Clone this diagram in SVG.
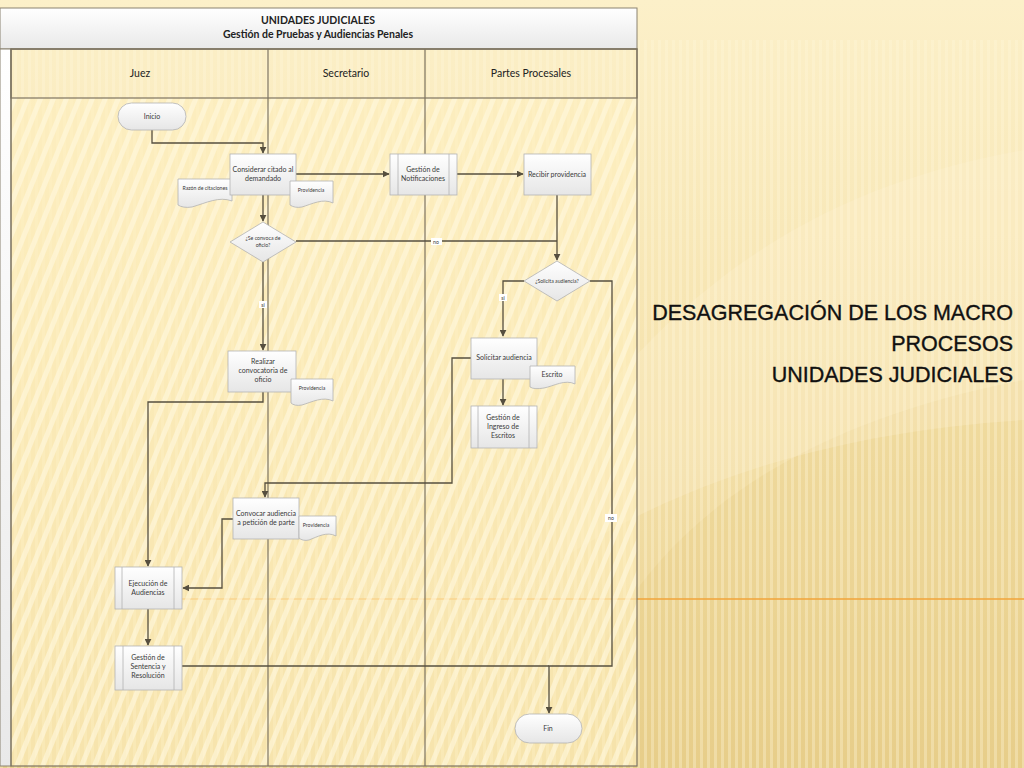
<svg xmlns="http://www.w3.org/2000/svg" width="1024" height="768" viewBox="0 0 1024 768">
<defs>
<linearGradient id="bg" x1="0" y1="0" x2="0" y2="1">
<stop offset="0" stop-color="#fcf0c9"/>
<stop offset="0.45" stop-color="#f6e4b0"/>
<stop offset="1" stop-color="#e9d08e"/>
</linearGradient>
<pattern id="vstripe" width="7" height="20" patternUnits="userSpaceOnUse">
<rect x="0" y="0" width="3" height="20" fill="#fff6da" opacity="0.35"/>
</pattern>
<pattern id="dstripe" width="12" height="20" patternUnits="userSpaceOnUse" patternTransform="rotate(22)">
<rect x="0" y="0" width="5" height="20" fill="#fff8e0" opacity="0.6"/>
</pattern>
<linearGradient id="hdr" x1="0" y1="0" x2="0" y2="1">
<stop offset="0" stop-color="#ffffff"/>
<stop offset="1" stop-color="#e9e9e9"/>
</linearGradient>
<linearGradient id="node" x1="0" y1="0" x2="0" y2="1">
<stop offset="0" stop-color="#ffffff"/>
<stop offset="1" stop-color="#e6e6e6"/>
</linearGradient>
<marker id="arr" viewBox="0 0 10 10" refX="9" refY="5" markerWidth="7" markerHeight="7" markerUnits="userSpaceOnUse" orient="auto">
<path d="M0,0 L10,5 L0,10 Z" fill="#564f3f"/>
</marker>
<style>
.n{fill:url(#node);stroke:#b3b3b3;stroke-width:0.8}
.t{font-family:Lato,"Open Sans","Liberation Sans",sans-serif;font-size:7px;fill:#3a3a3a;text-anchor:middle}
.s{font-family:Lato,"Open Sans","Liberation Sans",sans-serif;font-size:5.2px;fill:#3a3a3a;text-anchor:middle}
.h{font-family:Lato,"Open Sans","Liberation Sans",sans-serif;font-size:10.5px;fill:#222;text-anchor:middle}
.c{fill:none;stroke:#564f3f;stroke-width:1.3}
.lane{fill:none;stroke:#7d7461;stroke-width:1.2}
.lbl{fill:#ffffff}
.title{font-family:"Liberation Sans",Arial,sans-serif;font-size:21.5px;fill:#111;stroke:#111;stroke-width:0.35;text-anchor:end}
</style>
</defs>

<!-- slide background -->
<rect x="0" y="0" width="1024" height="768" fill="url(#bg)"/>
<path d="M560,768 C600,560 760,430 1024,380 L1024,768 Z" fill="#e4c87c" opacity="0.25"/>
<path d="M560,450 C700,250 860,180 1024,150 L1024,420 C860,430 700,470 560,560 Z" fill="#fff5d6" opacity="0.25"/>
<rect x="0" y="40" width="1024" height="728" fill="url(#vstripe)"/>
<line x1="182" y1="599" x2="1024" y2="599" stroke="#f2a43a" stroke-width="1.6"/>

<!-- pool -->
<g id="pool">
<rect x="11" y="98" width="626" height="668" fill="#fdeebd" opacity="0.65"/>
<rect x="11" y="98" width="626" height="668" fill="url(#dstripe)"/>
<rect x="0" y="8" width="637" height="41" fill="url(#hdr)" stroke="#8a8270" stroke-width="1"/>
<rect x="0" y="49" width="11" height="717" fill="url(#hdr)" stroke="#8a8270" stroke-width="1"/>
<rect x="11" y="49" width="626" height="49" fill="url(#hdr)" class="lane"/>
<line x1="268" y1="49" x2="268" y2="766" class="lane"/>
<line x1="425" y1="49" x2="425" y2="766" class="lane"/>
<rect x="11" y="49" width="626" height="717" class="lane"/>
<text x="318" y="24" class="h" font-weight="bold">UNIDADES JUDICIALES</text>
<text x="318" y="38" class="h" font-weight="bold">Gestión de Pruebas y Audiencias Penales</text>
<text x="140" y="77" class="h">Juez</text>
<text x="346" y="77" class="h">Secretario</text>
<text x="531" y="77" class="h">Partes Procesales</text>
</g>

<!-- connectors -->
<g id="connectors">
<path class="c" d="M152,130 V143 H263 V153" marker-end="url(#arr)"/>
<path class="c" d="M296,174 H389" marker-end="url(#arr)"/>
<path class="c" d="M457,174 H523" marker-end="url(#arr)"/>
<path class="c" d="M263,195 V221" marker-end="url(#arr)"/>
<path class="c" d="M296,241 H557"/>
<path class="c" d="M557,195 V260" marker-end="url(#arr)"/>
<path class="c" d="M263,262 V350" marker-end="url(#arr)"/>
<path class="c" d="M524,281 H503 V336" marker-end="url(#arr)"/>
<path class="c" d="M590,281 H612 V666 H549 V713" marker-end="url(#arr)"/>
<path class="c" d="M182,666 H549"/>
<path class="c" d="M263,392 V402 H148 V566" marker-end="url(#arr)"/>
<path class="c" d="M471,358 H452 V483 H265 V497" marker-end="url(#arr)"/>
<path class="c" d="M503,379 V405" marker-end="url(#arr)"/>
<path class="c" d="M233,519 H222 V588 H183" marker-end="url(#arr)"/>
<path class="c" d="M148,609 V645" marker-end="url(#arr)"/>
<rect class="lbl" x="431" y="238" width="11" height="7"/>
<text x="436" y="244" class="s" font-size="6">no</text>
<rect class="lbl" x="259" y="301" width="8" height="7"/>
<text x="263" y="307" class="s" font-size="6">si</text>
<rect class="lbl" x="499" y="294" width="8" height="7"/>
<text x="503" y="300" class="s" font-size="6">si</text>
<rect class="lbl" x="605" y="514" width="12" height="8"/>
<text x="611" y="520" class="s" font-size="6">no</text>
</g>

<!-- nodes -->
<g id="inicio">
<rect class="n" x="118" y="103" width="68" height="27" rx="13.5"/>
<text x="152" y="119" class="t">Inicio</text>
</g>
<g id="razon">
<path class="n" d="M178,179 H232 V201 C219,196 206,203 192,207 C186,208 181,207 178,205 Z"/>
<text x="205" y="190" class="s">Razón de citaciones</text>
</g>
<g id="considerar">
<rect class="n" x="230" y="154" width="66" height="41"/>
<text x="263" y="172" class="t">Considerar citado al</text>
<text x="263" y="181" class="t">demandado</text>
</g>
<g id="providencia1">
<path class="n" d="M290,181 H333 V203 C323,198 312,204 302,207 C297,208 293,207 290,205 Z"/>
<text x="311" y="192" class="s">Providencia</text>
</g>
<g id="gestion-notif">
<rect class="n" x="390" y="154" width="67" height="41"/>
<line x1="398" y1="154" x2="398" y2="195" stroke="#b3b3b3" stroke-width="0.8"/>
<line x1="449" y1="154" x2="449" y2="195" stroke="#b3b3b3" stroke-width="0.8"/>
<text x="423" y="172" class="t">Gestión de</text>
<text x="423" y="181" class="t">Notificaciones</text>
</g>
<g id="recibir">
<rect class="n" x="524" y="154" width="67" height="41"/>
<text x="557" y="177" class="t">Recibir providencia</text>
</g>
<g id="convoca-oficio">
<path class="n" d="M263,222 L296,242 L263,262 L230,242 Z"/>
<text x="263" y="240" class="s">¿Se convoca de</text>
<text x="263" y="247" class="s">oficio?</text>
</g>
<g id="solicita">
<path class="n" d="M557,261 L590,281 L557,301 L524,281 Z"/>
<text x="557" y="283" class="s">¿Solicita audiencia?</text>
</g>
<g id="realizar">
<rect class="n" x="228" y="351" width="68" height="41"/>
<text x="263" y="364" class="t">Realizar</text>
<text x="263" y="373" class="t">convocatoria de</text>
<text x="263" y="382" class="t">oficio</text>
</g>
<g id="providencia2">
<path class="n" d="M291,379 H333 V401 C323,396 312,402 302,405 C297,406 293,405 291,403 Z"/>
<text x="312" y="390" class="s">Providencia</text>
</g>
<g id="solicitar">
<rect class="n" x="471" y="338" width="66" height="41"/>
<text x="504" y="360" class="t">Solicitar audiencia</text>
</g>
<g id="escrito">
<path class="n" d="M530,366 H575 V384 C565,379 554,386 544,388 C538,389 533,389 530,387 Z"/>
<text x="552" y="377" class="t" font-size="6.5">Escrito</text>
</g>
<g id="gestion-ingreso">
<rect class="n" x="471" y="406" width="66" height="42"/>
<line x1="478" y1="406" x2="478" y2="448" stroke="#b3b3b3" stroke-width="0.8"/>
<line x1="529" y1="406" x2="529" y2="448" stroke="#b3b3b3" stroke-width="0.8"/>
<text x="503" y="420" class="t">Gestión de</text>
<text x="503" y="429" class="t">Ingreso de</text>
<text x="503" y="438" class="t">Escritos</text>
</g>
<g id="convocar">
<rect class="n" x="233" y="498" width="66" height="41"/>
<text x="266" y="516" class="t">Convocar audiencia</text>
<text x="266" y="525" class="t">a petición de parte</text>
</g>
<g id="providencia3">
<path class="n" d="M299,516 H336 V536 C327,531 317,537 309,540 C305,541 301,540 299,538 Z"/>
<text x="316" y="527" class="s">Providencia</text>
</g>
<g id="ejecucion">
<rect class="n" x="115" y="567" width="67" height="42"/>
<line x1="122" y1="567" x2="122" y2="609" stroke="#b3b3b3" stroke-width="0.8"/>
<line x1="174" y1="567" x2="174" y2="609" stroke="#b3b3b3" stroke-width="0.8"/>
<text x="148" y="586" class="t">Ejecución de</text>
<text x="148" y="595" class="t">Audiencias</text>
</g>
<g id="sentencia">
<rect class="n" x="115" y="646" width="67" height="44"/>
<line x1="123" y1="646" x2="123" y2="690" stroke="#b3b3b3" stroke-width="0.8"/>
<line x1="174" y1="646" x2="174" y2="690" stroke="#b3b3b3" stroke-width="0.8"/>
<text x="148" y="660" class="t">Gestión de</text>
<text x="148" y="669" class="t">Sentencia y</text>
<text x="148" y="678" class="t">Resolución</text>
</g>
<g id="fin">
<rect class="n" x="515" y="714" width="67" height="29" rx="14.5"/>
<text x="548" y="731" class="t">Fin</text>
</g>

<!-- title -->
<g id="title">
<text x="1013" y="320" class="title">DESAGREGACIÓN DE LOS MACRO</text>
<text x="1013" y="351" class="title">PROCESOS</text>
<text x="1013" y="382" class="title">UNIDADES JUDICIALES</text>
</g>
</svg>
